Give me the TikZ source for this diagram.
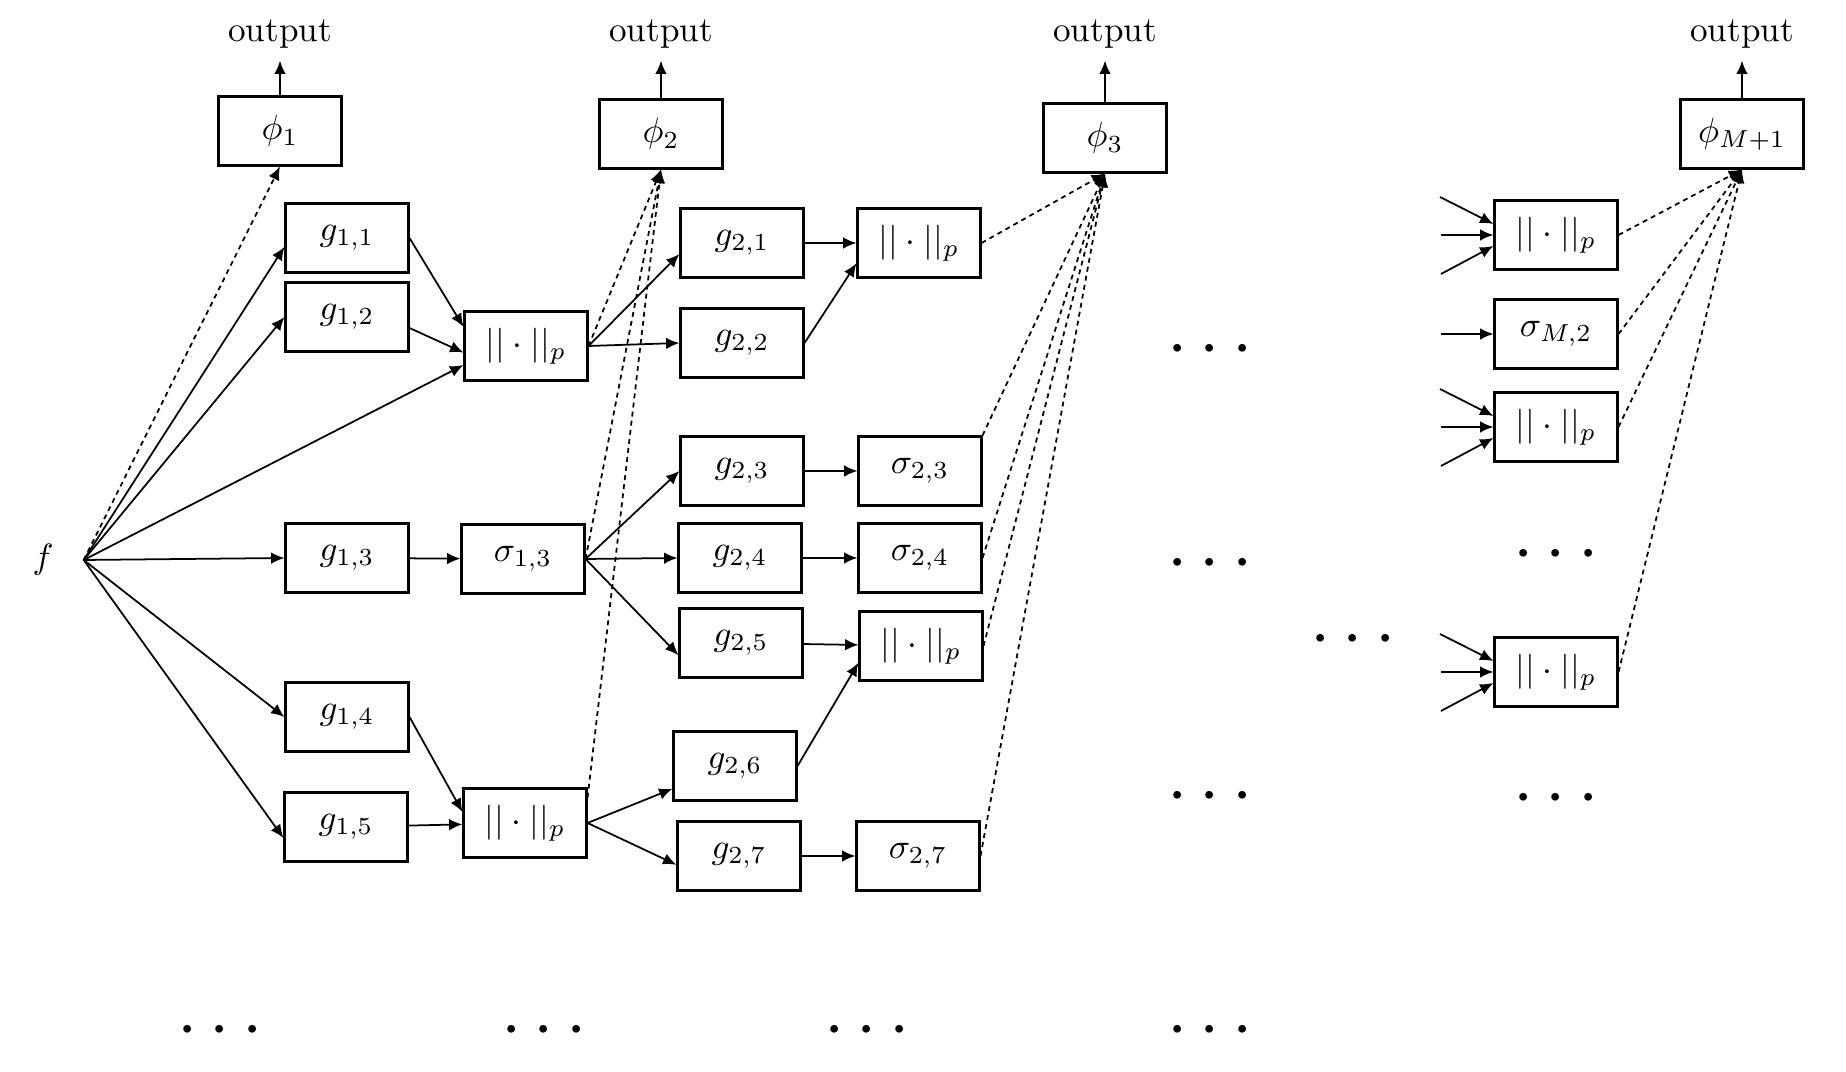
\documentclass[tikz,border=0pt]{standalone}
\usetikzlibrary{arrows.meta}

\begin{document}
\begin{tikzpicture}[
  box/.style={draw, line width=0.6pt, minimum width=1.23cm, minimum height=0.69cm, inner sep=1pt},
  dots/.style={font=\huge, inner sep=0pt},
  arrow/.style={-{Latex[length=3.8pt,width=3.3pt]}, line width=0.5pt},
  feed/.style={-{Latex[length=3.8pt,width=3.3pt]}, line width=0.5pt, dash pattern=on 1.4pt off 1.2pt}
]
\useasboundingbox (0,0) rectangle (18.46,-10.72);

\node[minimum width=0.8cm] (f) at (0.43,-5.6) {$f$};

\node[box] (phi1) at (2.80,-1.31) {$\phi_1$};
\node[box] (phi2) at (6.61,-1.34) {$\phi_2$};
\node[box] (phi3) at (11.05,-1.38) {$\phi_3$};
\node[box] (phiM) at (17.42,-1.34) {$\phi_{M+1}$};
\node (out1) at (2.80,-0.34) {output};
\node (out2) at (6.61,-0.34) {output};
\node (out3) at (11.05,-0.34) {output};
\node (outM) at (17.42,-0.34) {output};

\node[box] (g11) at (3.47,-2.38) {$g_{1,1}$};
\node[box] (g12) at (3.47,-3.17) {$g_{1,2}$};
\node[box] (g13) at (3.47,-5.58) {$g_{1,3}$};
\node[box] (g14) at (3.47,-7.17) {$g_{1,4}$};
\node[box] (g15) at (3.46,-8.27) {$g_{1,5}$};
\node[box] (n11) at (5.26,-3.46) {$||\cdot||_p$};
\node[box] (s13) at (5.23,-5.59) {$\sigma_{1,3}$};
\node[box] (n12) at (5.25,-8.23) {$||\cdot||_p$};

\node[box] (g21) at (7.42,-2.43) {$g_{2,1}$};
\node[box] (g22) at (7.42,-3.43) {$g_{2,2}$};
\node[box] (g23) at (7.42,-4.71) {$g_{2,3}$};
\node[box] (g24) at (7.40,-5.58) {$g_{2,4}$};
\node[box] (g25) at (7.41,-6.43) {$g_{2,5}$};
\node[box] (g26) at (7.35,-7.66) {$g_{2,6}$};
\node[box] (g27) at (7.39,-8.56) {$g_{2,7}$};
\node[box] (n21) at (9.19,-2.43) {$||\cdot||_p$};
\node[box] (s23) at (9.20,-4.71) {$\sigma_{2,3}$};
\node[box] (s24) at (9.20,-5.58) {$\sigma_{2,4}$};
\node[box] (n22) at (9.21,-6.46) {$||\cdot||_p$};
\node[box] (s27) at (9.18,-8.56) {$\sigma_{2,7}$};

\node[box] (nM1) at (15.56,-2.35) {$||\cdot||_p$};
\node[box] (sM2) at (15.56,-3.34) {$\sigma_{M,2}$};
\node[box] (nM3) at (15.56,-4.27) {$||\cdot||_p$};
\node[box] (nMk) at (15.56,-6.72) {$||\cdot||_p$};

\node[dots] (d1) at (12.10,-3.50) {$\cdots$};
\node[dots] (d2) at (12.10,-5.64) {$\cdots$};
\node[dots] (d3) at (13.53,-6.40) {$\cdots$};
\node[dots] (d4) at (12.10,-7.97) {$\cdots$};
\node[dots] (d5) at (15.56,-5.55) {$\cdots$};
\node[dots] (d6) at (15.56,-7.99) {$\cdots$};
\node[dots] (b1) at (2.20,-10.31) {$\cdots$};
\node[dots] (b2) at (5.44,-10.31) {$\cdots$};
\node[dots] (b3) at (8.67,-10.31) {$\cdots$};
\node[dots] (b4) at (12.10,-10.31) {$\cdots$};

\draw[arrow] (phi1.north) -- (out1.south);
\draw[arrow] (phi2.north) -- (out2.south);
\draw[arrow] (phi3.north) -- (out3.south);
\draw[arrow] (phiM.north) -- (outM.south);

\draw[arrow] (f.east) -- (g11.188);
\draw[arrow] (f.east) -- (g12.west);
\draw[arrow] (f.east) -- (n11.197);
\draw[arrow] (f.east) -- (g13.west);
\draw[arrow] (f.east) -- (g14.west);
\draw[arrow] (f.east) -- (g15.190);
\draw[feed] (f.east) -- (phi1.south);

\draw[arrow] (g11.east) -- (n11.163);
\draw[arrow] (g12.350) -- (n11.186);
\draw[arrow] (g13) -- (s13);
\draw[arrow] (g14.east) -- (n12.170);
\draw[arrow] (g15) -- (n12);

\draw[arrow] (n11.east) -- (g21.190);
\draw[arrow] (n11.east) -- (g22.west);
\draw[arrow] (s13.east) -- (g23.west);
\draw[arrow] (s13.east) -- (g24.west);
\draw[arrow] (s13.east) -- (g25.191);
\draw[arrow] (n12.east) -- (g26.200);
\draw[arrow] (n12.east) -- (g27.188);
\draw[feed] (n11.east) -- (phi2.south);
\draw[feed] (s13.east) -- (phi2.south);
\draw[feed] (n12.22) -- (phi2.south);

\draw[arrow] (g21) -- (n21);
\draw[arrow] (g22.east) -- (n21.198);
\draw[arrow] (g23) -- (s23);
\draw[arrow] (g24) -- (s24);
\draw[arrow] (g25) -- (n22);
\draw[arrow] (g26.east) -- (n22.195);
\draw[arrow] (g27) -- (s27);
\draw[feed] (n21.east) -- (phi3.south);
\draw[feed] (s23.north east) -- (phi3.south);
\draw[feed] (s24.east) -- (phi3.south);
\draw[feed] (n22.east) -- (phi3.south);
\draw[feed] (s27.east) -- (phi3.south);

\coordinate (a1) at (14.40,-1.97);
\coordinate (a2) at (14.41,-2.35);
\coordinate (a3) at (14.41,-2.74);
\coordinate (b0) at (14.41,-3.34);
\coordinate (c1) at (14.40,-3.89);
\coordinate (c2) at (14.41,-4.27);
\coordinate (c3) at (14.41,-4.66);
\coordinate (e1) at (14.40,-6.34);
\coordinate (e2) at (14.41,-6.72);
\coordinate (e3) at (14.41,-7.11);

\draw[arrow] (a1) -- (nM1.170);
\draw[arrow] (a2) -- (nM1.west);
\draw[arrow] (a3) -- (nM1.190);
\draw[arrow] (b0) -- (sM2.west);
\draw[arrow] (c1) -- (nM3.170);
\draw[arrow] (c2) -- (nM3.west);
\draw[arrow] (c3) -- (nM3.190);
\draw[arrow] (e1) -- (nMk.170);
\draw[arrow] (e2) -- (nMk.west);
\draw[arrow] (e3) -- (nMk.190);
\draw[feed] (nM1.east) -- (phiM.south);
\draw[feed] (sM2.east) -- (phiM.south);
\draw[feed] (nM3.east) -- (phiM.south);
\draw[feed] (nMk.east) -- (phiM.south);

\end{tikzpicture}
\end{document}
